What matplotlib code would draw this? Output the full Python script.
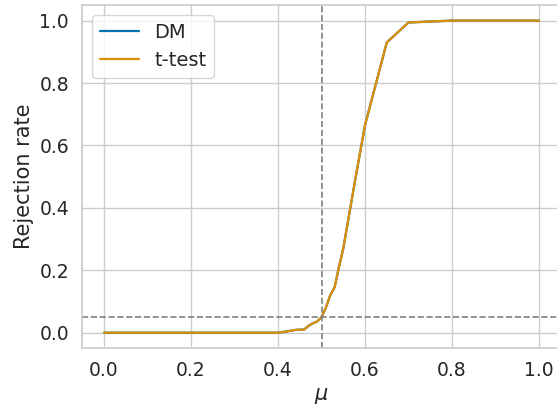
import matplotlib
matplotlib.use("Agg")
import matplotlib.pyplot as plt
import seaborn as sns

mu = [0.0, 0.1, 0.2, 0.3, 0.4, 0.42, 0.44, 0.46, 0.47, 0.48, 0.49, 0.5,
      0.51, 0.52, 0.53, 0.54, 0.55, 0.56, 0.58, 0.6, 0.65, 0.7, 0.8, 0.9, 1.0]
dm = [0.0, 0.0, 0.0, 0.0, 0.0, 0.004, 0.009, 0.01, 0.022, 0.03, 0.036, 0.05,
      0.08, 0.12, 0.145, 0.21, 0.27, 0.35, 0.51, 0.665, 0.93, 0.994, 1.0, 1.0, 1.0]
ttest = [0.0, 0.0, 0.0, 0.0, 0.0, 0.004, 0.009, 0.01, 0.022, 0.03, 0.036, 0.05,
         0.08, 0.12, 0.145, 0.21, 0.27, 0.35, 0.51, 0.665, 0.93, 0.994, 1.0, 1.0, 1.0]
alpha = 0.05
mu0 = 0.5

sns.set_theme(style="whitegrid", font_scale=1.2)
pal = sns.color_palette("colorblind")

fig = plt.figure(figsize=(5.57, 4.07), dpi=100)
ax = fig.add_axes([82.3/557, (407-348.3)/407, (560.75-82.3)/557, (348.3-5)/407])
ax.plot(mu, dm, color=pal[0], label="DM", lw=1.6)
ax.plot(mu, ttest, color=pal[1], label="t-test", lw=1.6)
ax.axvline(mu0, color="gray", ls="--", lw=1.2)
ax.axhline(alpha, color="gray", ls="--", lw=1.2)
ax.tick_params(labelsize=13.5)
ax.set_xlabel(r"$\mu$", fontsize=15)
ax.set_ylabel("Rejection rate", fontsize=15)
ax.legend(loc="upper left", fontsize=14)
fig.savefig("out.png", dpi=100)
